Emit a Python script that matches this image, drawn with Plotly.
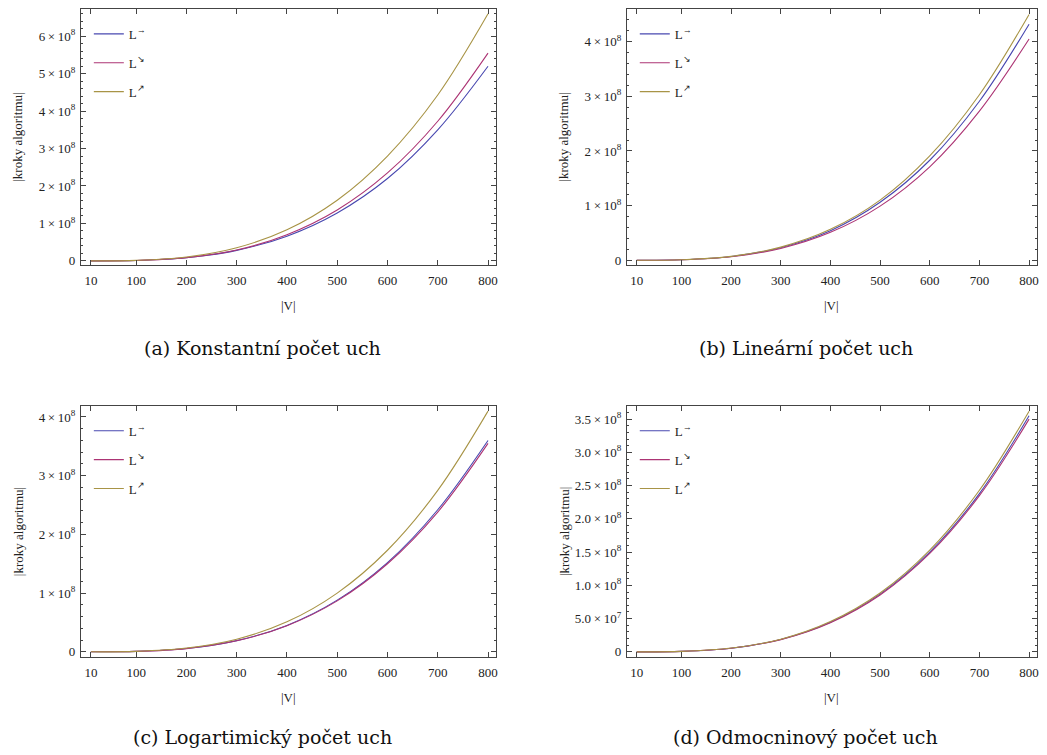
import numpy as np
import plotly.graph_objects as go

# ---------------- data ----------------
V = [10, 100, 200, 300, 400, 500, 600, 700, 800]
SERIES_NAMES = ["L<sup>→</sup>", "L<sup>↘</sup>", "L<sup>↗</sup>"]

# values in units of 1e8 steps
A_RIGHT = [0, 0.010, 0.082, 0.28, 0.66, 1.28, 2.20, 3.50, 5.20]
A_DOWN = [0, 0.011, 0.087, 0.29, 0.70, 1.36, 2.35, 3.73, 5.55]
A_UP = [0, 0.013, 0.103, 0.35, 0.83, 1.62, 2.80, 4.43, 6.60]

B_RIGHT = [0, 0.0085, 0.068, 0.23, 0.54, 1.06, 1.83, 2.91, 4.32]
B_DOWN = [0, 0.008, 0.063, 0.215, 0.51, 0.99, 1.71, 2.73, 4.05]
B_UP = [0, 0.009, 0.070, 0.24, 0.565, 1.10, 1.91, 3.03, 4.50]

C_RIGHT = [0, 0.007, 0.056, 0.19, 0.45, 0.88, 1.52, 2.42, 3.60]
C_DOWN = [0, 0.007, 0.055, 0.187, 0.445, 0.868, 1.50, 2.38, 3.55]
C_UP = [0, 0.008, 0.064, 0.215, 0.51, 1.00, 1.73, 2.75, 4.10]

D_RIGHT = [0, 0.007, 0.055, 0.187, 0.445, 0.868, 1.50, 2.38, 3.55]
D_DOWN = [0, 0.0068, 0.054, 0.184, 0.438, 0.855, 1.48, 2.35, 3.50]
D_UP = [0, 0.007, 0.057, 0.19, 0.455, 0.885, 1.53, 2.43, 3.62]

X_TICKS = [10, 100, 200, 300, 400, 500, 600, 700, 800]
X_TICKTEXT = ["10", "100", "200", "300", "400", "500", "600", "700", "800"]

TIMES = "\u2009×\u200910<sup>8</sup>"
Y_TICKS_ABC = [0, 1e8, 2e8, 3e8, 4e8, 5e8, 6e8]
Y_TICKTEXT_ABC = ["0"] + [f"{k}{TIMES}" for k in range(1, 7)]
Y_TICKS_D = [0, 0.5e8, 1.0e8, 1.5e8, 2.0e8, 2.5e8, 3.0e8, 3.5e8]
Y_TICKTEXT_D = ["0", "5.0\u2009×\u200910<sup>7</sup>", "1.0" + TIMES, "1.5" + TIMES,
                "2.0" + TIMES, "2.5" + TIMES, "3.0" + TIMES, "3.5" + TIMES]

CAPTIONS = ["(a) Konstantní počet uch", "(b) Lineární počet uch",
            "(c) Logartimický počet uch", "(d) Odmocninový počet uch"]
Y_TITLE = "|kroky algoritmu|"
X_TITLE = "|V|"

COLORS = ["rgb(72,72,176)", "rgb(172,52,116)", "rgb(168,148,70)"]

W, H = 1047, 755
SERIF = "Liberation Serif, Times New Roman, serif"
TICKFONT = dict(family=SERIF, size=13, color="#222")

# panel frames in pixels: (left, right, top, bottom); y range with ~2% padding
PANELS = [
    dict(series=[A_RIGHT, A_DOWN, A_UP], frame=(81, 497, 9, 266), yr=(-0.10e8, 6.73e8),
         yt=(Y_TICKS_ABC, Y_TICKTEXT_ABC), minor=0.2e8),
    dict(series=[B_RIGHT, B_DOWN, B_UP], frame=(628, 1039, 9, 266), yr=(-0.08e8, 4.60e8),
         yt=(Y_TICKS_ABC[:5], Y_TICKTEXT_ABC[:5]), minor=0.2e8),
    dict(series=[C_RIGHT, C_DOWN, C_UP], frame=(81, 497, 408, 660), yr=(-0.08e8, 4.19e8),
         yt=(Y_TICKS_ABC[:5], Y_TICKTEXT_ABC[:5]), minor=0.2e8),
    dict(series=[D_RIGHT, D_DOWN, D_UP], frame=(628, 1039, 408, 660), yr=(-0.07e8, 3.70e8),
         yt=(Y_TICKS_D, Y_TICKTEXT_D), minor=0.1e8),
]

fig = go.Figure()
annotations = []

for i, p in enumerate(PANELS):
    n = i + 1
    xa = "x" if n == 1 else f"x{n}"
    ya = "y" if n == 1 else f"y{n}"
    lg = "legend" if n == 1 else f"legend{n}"
    for j, s in enumerate(p["series"]):
        fig.add_trace(go.Scatter(
            x=V, y=[v * 1e8 for v in s], mode="lines", name=SERIES_NAMES[j],
            line=dict(color=COLORS[j], width=1.1, shape="spline"),
            xaxis=xa, yaxis=ya, legend=lg, legendgroup=f"g{n}{j}",
        ))
    l, r, t, b = p["frame"]
    xdom = [l / W, r / W]
    ydom = [1 - b / H, 1 - t / H]
    axkey = "xaxis" if n == 1 else f"xaxis{n}"
    aykey = "yaxis" if n == 1 else f"yaxis{n}"
    common = dict(showline=True, linecolor="#444", linewidth=1, mirror="ticks",
                  ticks="inside", ticklen=5, tickcolor="#444", tickwidth=1,
                  showgrid=False, zeroline=False, tickfont=TICKFONT)
    fig.layout[axkey] = dict(domain=xdom, anchor=ya, range=[-10, 816],
                             tickmode="array", tickvals=X_TICKS, ticktext=X_TICKTEXT,
                             ticklabelstandoff=4, **common)
    yvals, ytext = p["yt"]
    minor_vals = list(np.arange(0, p["yr"][1], p["minor"]))
    fig.layout[aykey] = dict(domain=ydom, anchor=xa, range=list(p["yr"]),
                             tickmode="array", tickvals=yvals, ticktext=ytext,
                             ticklabelstandoff=2,
                             minor=dict(ticks="inside", ticklen=2.5, tickcolor="#444",
                                        tickmode="array", tickvals=minor_vals),
                             **common)
    fig.layout[lg] = dict(x=(l + 8) / W, y=1 - (t + 10) / H, xanchor="left", yanchor="top",
                          bgcolor="rgba(0,0,0,0)", borderwidth=0, tracegroupgap=9,
                          font=dict(family=SERIF, size=13, color="#222"))
    # axis titles
    annotations.append(dict(text=Y_TITLE, xref="paper", yref="paper",
                            x=(l - 63) / W, y=1 - ((t + b) / 2) / H, textangle=-90,
                            showarrow=False, xanchor="center", yanchor="middle",
                            font=dict(family=SERIF, size=13, color="#222")))
    annotations.append(dict(text=X_TITLE, xref="paper", yref="paper",
                            x=((l + r) / 2) / W, y=1 - (b + 41) / H,
                            showarrow=False, xanchor="center", yanchor="middle",
                            font=dict(family=SERIF, size=13, color="#222")))
    annotations.append(dict(text=CAPTIONS[i], xref="paper", yref="paper",
                            x=((l + r) / 2 - 26) / W, y=1 - min(b + 84, 741) / H,
                            showarrow=False, xanchor="center", yanchor="middle",
                            font=dict(family="DejaVu Serif", size=19, color="#111")))

fig.update_layout(width=W, height=H, margin=dict(l=0, r=0, t=0, b=0),
                  paper_bgcolor="white", plot_bgcolor="white",
                  annotations=annotations, showlegend=True)

fig.write_html("out.html")
